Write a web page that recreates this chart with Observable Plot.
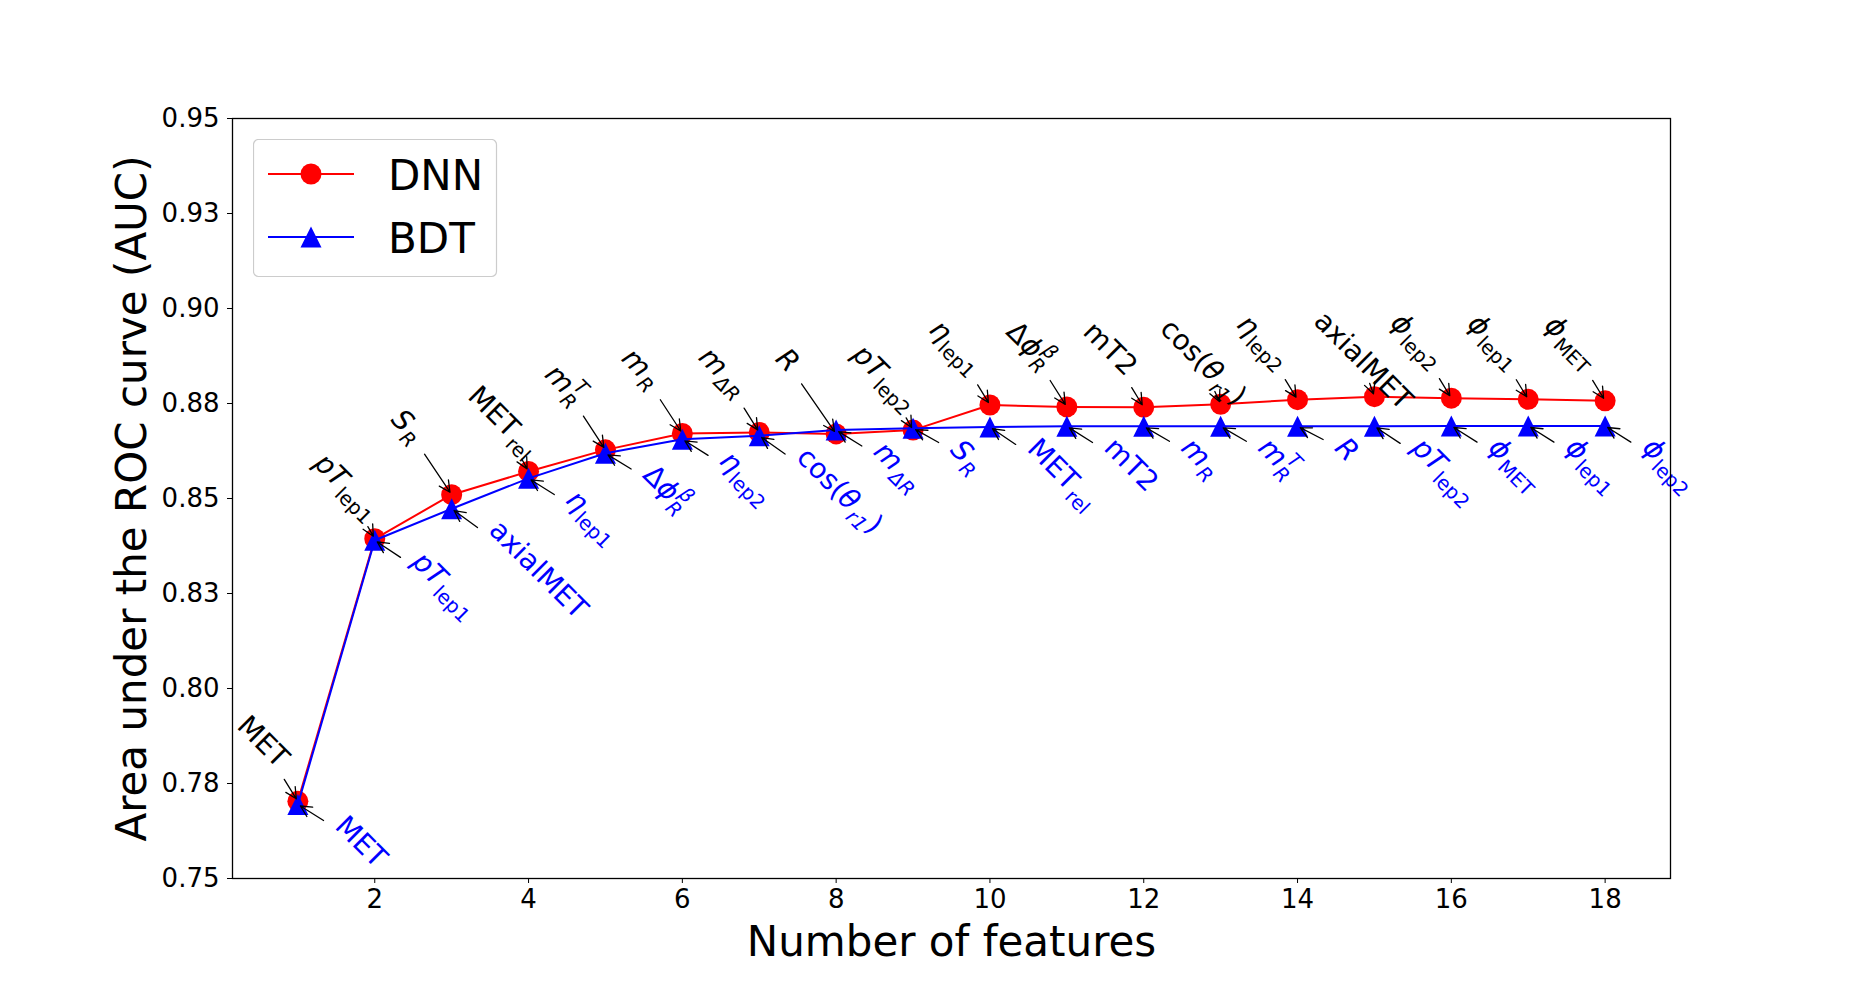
<!DOCTYPE html>
<html>
<head>
<meta charset="utf-8">
<script src="https://cdn.jsdelivr.net/npm/d3@7"></script>
<script src="https://cdn.jsdelivr.net/npm/@observablehq/plot@0.6"></script>
<style>
  html, body { margin: 0; padding: 0; background: #ffffff; }
  #chart { position: relative; width: 1855px; height: 986px; background: #ffffff; }
</style>
</head>
<body>
<div id="chart"></div>
<script>
// ---------------- data ----------------
const features = [1, 2, 3, 4, 5, 6, 7, 8, 9, 10, 11, 12, 13, 14, 15, 16, 17, 18];
const dnnAUC = [0.7703, 0.8394, 0.8510, 0.8571, 0.8628, 0.8671, 0.8674, 0.8670, 0.8680,
                0.8746, 0.8741, 0.8740, 0.8748, 0.8760, 0.8768, 0.8764, 0.8761, 0.8757];
const bdtAUC = [0.7695, 0.8390, 0.8473, 0.8553, 0.8619, 0.8656, 0.8665, 0.8680, 0.8685,
                0.8688, 0.8690, 0.8690, 0.8690, 0.8690, 0.8690, 0.8691, 0.8691, 0.8691];
const dnnLabels = ["MET", "$pT_{lep1}$", "$S_R$", "MET$_{rel}$", "$m_R^T$", "$m_R$", "$m_{ΔR}$", "$R$",
                   "$pT_{lep2}$", "$η_{lep1}$", "$Δϕ_R^β$", "mT2", "cos($θ_{r1}$)", "$η_{lep2}$",
                   "axialMET", "$ϕ_{lep2}$", "$ϕ_{lep1}$", "$ϕ_{MET}$"];
const bdtLabels = ["MET", "$pT_{lep1}$", "axialMET", "$η_{lep1}$", "$Δϕ_R^β$", "$η_{lep2}$", "cos($θ_{r1}$)",
                   "$m_{ΔR}$", "$S_R$", "MET$_{rel}$", "mT2", "$m_R$", "$m_R^T$", "$R$", "$pT_{lep2}$",
                   "$ϕ_{MET}$", "$ϕ_{lep1}$", "$ϕ_{lep2}$"];
const seriesNames = ["DNN", "BDT"];
const xTicks = [2, 4, 6, 8, 10, 12, 14, 16, 18];
const yTicks = [0.75, 0.775, 0.8, 0.825, 0.85, 0.875, 0.9, 0.925, 0.95];
const yTickLabels = ["0.75", "0.78", "0.80", "0.83", "0.85", "0.88", "0.90", "0.93", "0.95"];
const xLabel = "Number of features";
const yLabel = "Area under the ROC curve (AUC)";

// ---------------- style constants ----------------
const FONT = "DejaVu Sans";
const FS = 28, FS_SUB = 19.6, SUB_SHIFT = 7, SUP_SHIFT = -12, SUB_GAP = 1.5;
const DNN_OFF = [-62, -74], BDT_OFF = [36, 23];
const PAD = 3, SHRINK_A = 3, SHRINK_B = 3, HEAD_LEN = 11, HEAD_HALF = 5.5;
const RED = "#ff0000", BLUE = "#0000ff";

// ---------------- label parsing / measuring ----------------
function parseLabel(s) {
  const segs = []; let math = false; let i = 0;
  while (i < s.length) {
    const c = s[i];
    if (c === "$") { math = !math; i++; continue; }
    if (c === "_" || c === "^") {
      i++; let content;
      if (s[i] === "{") { const j = s.indexOf("}", i); content = s.slice(i + 1, j); i = j + 1; }
      else { content = s[i]; i++; }
      const letters = (content.match(/[A-Za-z]/g) || []).length;
      segs.push({text: content, role: c === "_" ? "sub" : "sup", italic: math && letters < 2});
      continue;
    }
    const italic = math && /[A-Za-zϕθηβ]/.test(c);
    const last = segs[segs.length - 1];
    if (last && last.role === "main" && last.italic === italic) last.text += c;
    else segs.push({text: c, role: "main", italic});
    i++;
  }
  return segs;
}
const plain = (s) => s.replace(/[\$\{\}_\^]/g, "");
const ctx2d = document.createElement("canvas").getContext("2d");
function segWidth(seg) {
  ctx2d.font = `${seg.italic ? "italic " : ""}${seg.role === "main" ? FS : FS_SUB}px "${FONT}"`;
  return ctx2d.measureText(seg.text).width;
}
function labelWidth(segs) {
  let w = 0;
  segs.forEach((s, k) => {
    const sw = segWidth(s);
    if (s.role === "sup" && k > 0 && segs[k - 1].role === "sub") w += Math.max(0, sw - segWidth(segs[k - 1]));
    else w += sw + (s.role === "sub" ? SUB_GAP : 0);
  });
  return w;
}
// matplotlib-like annotation arrow: from text bbox centre toward the point
function arrowGeom(label, off) {
  const w = labelWidth(parseLabel(label));
  const a = 0.76 * FS, d = 0.24 * FS, k = Math.SQRT1_2;
  const [ox, oy] = off;
  const x0 = ox - k * d, x1 = ox + k * (w + a), y0 = oy - k * a, y1 = oy + k * (w + d);
  const cx = (x0 + x1) / 2, cy = (y0 + y1) / 2;
  const dist = Math.hypot(cx, cy);
  const ux = -cx / dist, uy = -cy / dist;
  const hx = (x1 - x0) / 2 + PAD, hy = (y1 - y0) / 2 + PAD;
  let t = Math.min(hx / Math.max(Math.abs(ux), 1e-6), hy / Math.max(Math.abs(uy), 1e-6)) + SHRINK_A;
  t = Math.min(t, dist - SHRINK_B - HEAD_LEN);
  const sx = cx + ux * t, sy = cy + uy * t;
  return {len: Math.hypot(sx, sy), rot: Math.atan2(sx, -sy) * 180 / Math.PI};
}
const mplArrow = {
  draw(context, l) {
    context.moveTo(0, -l);
    context.lineTo(0, -SHRINK_B);
    context.moveTo(-HEAD_HALF, -SHRINK_B - HEAD_LEN);
    context.lineTo(0, -SHRINK_B);
    context.lineTo(HEAD_HALF, -SHRINK_B - HEAD_LEN);
  }
};
const triangle = {
  draw(context, size) {
    const r = Math.sqrt(size / Math.PI);
    context.moveTo(0, -r);
    context.lineTo(r, r);
    context.lineTo(-r, r);
    context.closePath();
  }
};

const idx = d3.range(features.length);
function arrowMarks(values, labels, off) {
  return idx.map((i) => {
    const g = arrowGeom(labels[i], off);
    return Plot.vector([i], {
      x: (j) => features[j], y: (j) => values[j],
      length: g.len, rotate: g.rot, anchor: "start", shape: mplArrow,
      stroke: "#000000", strokeWidth: 1.3
    });
  });
}

// ---------------- chart ----------------
const chart = Plot.plot({
  width: 1855,
  height: 986,
  marginLeft: 232,
  marginRight: 185,
  marginTop: 118,
  marginBottom: 108,
  x: {domain: [0.15, 18.85]},
  y: {domain: [0.75, 0.95]},
  style: {fontFamily: FONT, fontSize: "26px", background: "#ffffff", color: "#000000", overflow: "visible"},
  marks: [
    Plot.axisX({ticks: xTicks, tickSize: 5, tickPadding: 6, label: null, fontSize: 26, tickFormat: (d) => String(d)}),
    Plot.axisY({ticks: yTicks, tickSize: 5, tickPadding: 8, label: null, fontSize: 26,
                tickFormat: (d) => yTickLabels[yTicks.indexOf(d)]}),
    Plot.line(idx, {x: (i) => features[i], y: (i) => dnnAUC[i], stroke: RED, strokeWidth: 2}),
    Plot.dot(idx, {x: (i) => features[i], y: (i) => dnnAUC[i], r: 10.5, fill: RED, stroke: "none"}),
    Plot.line(idx, {x: (i) => features[i], y: (i) => bdtAUC[i], stroke: BLUE, strokeWidth: 2}),
    Plot.dot(idx, {x: (i) => features[i], y: (i) => bdtAUC[i], r: 10.5, symbol: triangle, fill: BLUE, stroke: "none"}),
    ...arrowMarks(dnnAUC, dnnLabels, DNN_OFF),
    ...arrowMarks(bdtAUC, bdtLabels, BDT_OFF),
    Plot.text(idx, {x: (i) => features[i], y: (i) => dnnAUC[i], text: (i) => plain(dnnLabels[i]),
                    rotate: 45, textAnchor: "start", lineAnchor: "bottom", dx: DNN_OFF[0], dy: DNN_OFF[1],
                    fontSize: FS, fill: "#000000"}),
    Plot.text(idx, {x: (i) => features[i], y: (i) => bdtAUC[i], text: (i) => plain(bdtLabels[i]),
                    rotate: 45, textAnchor: "start", lineAnchor: "bottom", dx: BDT_OFF[0], dy: BDT_OFF[1],
                    fontSize: FS, fill: BLUE}),
    Plot.text([yLabel], {frameAnchor: "left", text: (d) => d, rotate: -90, textAnchor: "middle",
                         lineAnchor: "bottom", dx: -87, fontSize: 42, fill: "#000000"}),
    Plot.text([xLabel], {frameAnchor: "bottom", text: (d) => d, textAnchor: "middle",
                         lineAnchor: "bottom", dy: 77, fontSize: 42, fill: "#000000"}),
    Plot.frame({stroke: "#000000", strokeWidth: 1.3})
  ]
});

// rich text (italic / subscripts / superscripts) for the annotation labels
function fillRich(textEl, segs) {
  while (textEl.firstChild) textEl.removeChild(textEl.firstChild);
  let shift = 0, pendingDx = 0;
  segs.forEach((s, k) => {
    const t = document.createElementNS("http://www.w3.org/2000/svg", "tspan");
    t.textContent = s.text;
    const target = s.role === "sub" ? SUB_SHIFT : s.role === "sup" ? SUP_SHIFT : 0;
    let dx = pendingDx; pendingDx = 0;
    if (s.role === "sub") dx += SUB_GAP;
    if (s.role === "sup" && k > 0 && segs[k - 1].role === "sub") {
      const subW = segWidth(segs[k - 1]), supW = segWidth(s);
      dx -= subW; pendingDx = Math.max(0, subW - supW);
    }
    if (dx) t.setAttribute("dx", dx);
    if (target !== shift) t.setAttribute("dy", target - shift);
    shift = target;
    t.setAttribute("font-size", s.role === "main" ? FS : FS_SUB);
    t.setAttribute("font-style", s.italic ? "italic" : "normal");
    textEl.appendChild(t);
  });
}
const groups = Array.from(chart.querySelectorAll("g")).filter((g) => g.getAttribute("text-anchor") === "start" && g.querySelector(":scope > text"));
const dnnGroup = groups.find((g) => g.getAttribute("fill") === "#000000");
const bdtGroup = groups.find((g) => g.getAttribute("fill") === BLUE);
if (dnnGroup) dnnGroup.querySelectorAll(":scope > text").forEach((el, i) => fillRich(el, parseLabel(dnnLabels[i])));
if (bdtGroup) bdtGroup.querySelectorAll(":scope > text").forEach((el, i) => fillRich(el, parseLabel(bdtLabels[i])));

const container = document.getElementById("chart");
container.appendChild(chart);

// ---------------- legend (overlay) ----------------
const legend = d3.select(container).append("svg")
  .style("position", "absolute").style("left", "253px").style("top", "139px")
  .attr("width", 245).attr("height", 139);
legend.append("rect").attr("x", 0.5).attr("y", 0.5).attr("width", 243).attr("height", 137)
  .attr("rx", 5).attr("fill", "#ffffff").attr("fill-opacity", 0.8).attr("stroke", "#cccccc").attr("stroke-width", 1.2);
const legendColors = [RED, BLUE];
seriesNames.forEach((name, k) => {
  const cy = 35 + k * 63;
  legend.append("line").attr("x1", 15).attr("x2", 101).attr("y1", cy).attr("y2", cy)
    .attr("stroke", legendColors[k]).attr("stroke-width", 2);
  if (k === 0) legend.append("circle").attr("cx", 58).attr("cy", cy).attr("r", 10.5).attr("fill", legendColors[k]);
  else legend.append("path").attr("d", `M58,${cy - 10.5}L68.5,${cy + 10.5}L47.5,${cy + 10.5}Z`).attr("fill", legendColors[k]);
  legend.append("text").attr("x", 135).attr("y", cy + 16).attr("font-family", FONT).attr("font-size", 42)
    .attr("fill", "#000000").text(name);
});
</script>
</body>
</html>
